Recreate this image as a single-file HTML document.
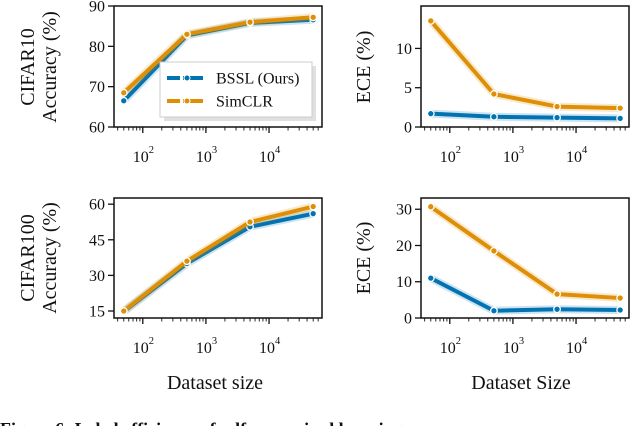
<!DOCTYPE html>
<html><head><meta charset="utf-8"><style>
body{margin:0;background:#fff;width:632px;height:426px;overflow:hidden}
svg text{font-family:"Liberation Serif",serif;fill:#111}
</style></head><body>
<svg id="fig" width="632" height="426"></svg>
<script>
const sizes=[50,500,5000,50000];
const c10Bssl=[66.5,82.7,85.8,86.6];
const c10Sim=[68.5,83.0,86.0,87.2];
const c10EceBssl=[1.7,1.3,1.2,1.1];
const c10EceSim=[13.5,4.2,2.6,2.4];
const c100Bssl=[14.8,35.0,50.5,56.0];
const c100Sim=[15.0,36.0,52.5,59.0];
const c100EceBssl=[11.0,2.0,2.4,2.2];
const c100EceSim=[30.7,18.5,6.6,5.5];
const c10Ticks=[60,70,80,90];
const c10EceTicks=[0,5,10];
const c100Ticks=[15,30,45,60];
const c100EceTicks=[0,10,20,30];
const xTickExp=[2,3,4];

const NS="http://www.w3.org/2000/svg";
const svg=document.getElementById('fig');
const BLUE="#0173b2",ORANGE="#de8f05";
function mk(tag,at,parent){const e=document.createElementNS(NS,tag);for(const k in at)e.setAttribute(k,at[k]);(parent||svg).appendChild(e);return e;}

function panel(name,x0,x1,y0,y1,ymin,ymax,yticks,bssl,sim,showX){
  const g=mk('g',{});
  
  
  const lmin=Math.log10(35),lmax=Math.log10(69000);
  const X=v=>x0+(Math.log10(v)-lmin)/(lmax-lmin)*(x1-x0);
  const Y=v=>y1-(v-ymin)/(ymax-ymin)*(y1-y0);
  for(let d=1;d<=4;d++)for(let m=1;m<10;m++){const v=m*Math.pow(10,d);if(v<35||v>69000)continue;const xx=X(v);
    const t=mk('line',{x1:xx,x2:xx,y1:y1,y2:y1+(m==1?6:3.5),stroke:'#111','stroke-width':m==1?1.3:0.9},g);
    }
  if(showX){xTickExp.forEach(e=>{const xx=X(Math.pow(10,e));
    const t=mk('text',{x:xx-10,y:y1+35,'font-size':16},g);t.textContent='10';
    
    const s=mk('text',{x:xx+6,y:y1+26,'font-size':10.5},g);s.textContent=e;});}
  yticks.forEach(v=>{const yy=Y(v);
    mk('line',{x1:x0-6,x2:x0,y1:yy,y2:yy,stroke:'#111','stroke-width':1.3},g);
    const t=mk('text',{x:x0-9,y:yy+5.5,'font-size':16,'text-anchor':'end'},g);t.textContent=v;
    });
  [[bssl,BLUE,'bssl'],[sim,ORANGE,'simclr']].forEach(([arr,col,nm])=>{
    const pts=arr.map((v,i)=>X(sizes[i])+','+Y(v)).join(' ');
    mk('polyline',{points:pts,fill:'none',stroke:col,'stroke-opacity':0.2,'stroke-width':8,'stroke-linejoin':'round'},g);
    const l=mk('polyline',{points:pts,fill:'none',stroke:col,'stroke-width':4,'stroke-linejoin':'round'},g);
    
    arr.forEach((v,i)=>{const p=mk('circle',{cx:X(sizes[i]),cy:Y(v),r:3.3,fill:col,stroke:'#fff','stroke-width':1.3},g);
      });
  });
  mk('rect',{x:x0,y:y0,width:x1-x0,height:y1-y0,fill:'none',stroke:'#111','stroke-width':1.5},g);
}
panel('cifar10-accuracy-panel',114,322,6,127,60,90,c10Ticks,c10Bssl,c10Sim,true);
panel('cifar10-ece-panel',421,629,6,127,0,15.4,c10EceTicks,c10EceBssl,c10EceSim,true);
panel('cifar100-accuracy-panel',114,322,198,318,12.05,62.6,c100Ticks,c100Bssl,c100Sim,true);
panel('cifar100-ece-panel',421,629,198,318,0,33.1,c100EceTicks,c100EceBssl,c100EceSim,true);
</script>
<svg width="632" height="426" style="position:absolute;left:0;top:0">
<g>
<rect x="164" y="66" width="152" height="55" fill="#ccc" opacity="0.6"/>
<rect x="160" y="62" width="152" height="55" fill="#fff" stroke="#ccc" stroke-width="1"/>
<line x1="167" y1="78" x2="207" y2="78" stroke="#0173b2" stroke-width="4" stroke-dasharray="13,3,4,3,13"/>
<circle cx="187" cy="78" r="3" fill="#0173b2" stroke="#fff"/>
<text x="216" y="83.5" font-size="16">BSSL (Ours)</text>
<line x1="167" y1="101" x2="207" y2="101" stroke="#de8f05" stroke-width="4" stroke-dasharray="13,3,4,3,13"/>
<circle cx="187" cy="101" r="3" fill="#de8f05" stroke="#fff"/>
<text x="216" y="106.5" font-size="16">SimCLR</text>
</g>
<text transform="translate(34,67) rotate(-90)" text-anchor="middle" font-size="20">CIFAR10</text>
<text transform="translate(56,67) rotate(-90)" text-anchor="middle" font-size="20">Accuracy (%)</text>
<text transform="translate(34,258) rotate(-90)" text-anchor="middle" font-size="20">CIFAR100</text>
<text transform="translate(56,258) rotate(-90)" text-anchor="middle" font-size="20">Accuracy (%)</text>
<text transform="translate(370,67) rotate(-90)" text-anchor="middle" font-size="20">ECE (%)</text>
<text transform="translate(370,258) rotate(-90)" text-anchor="middle" font-size="20">ECE (%)</text>
<text x="215" y="389" text-anchor="middle" font-size="20">Dataset size</text>
<text x="521" y="389" text-anchor="middle" font-size="20">Dataset Size</text>
<text x="0" y="435" font-size="18" font-weight="bold">Figure 6: Label efficiency of self-supervised learning</text>
</svg>
</body></html>
